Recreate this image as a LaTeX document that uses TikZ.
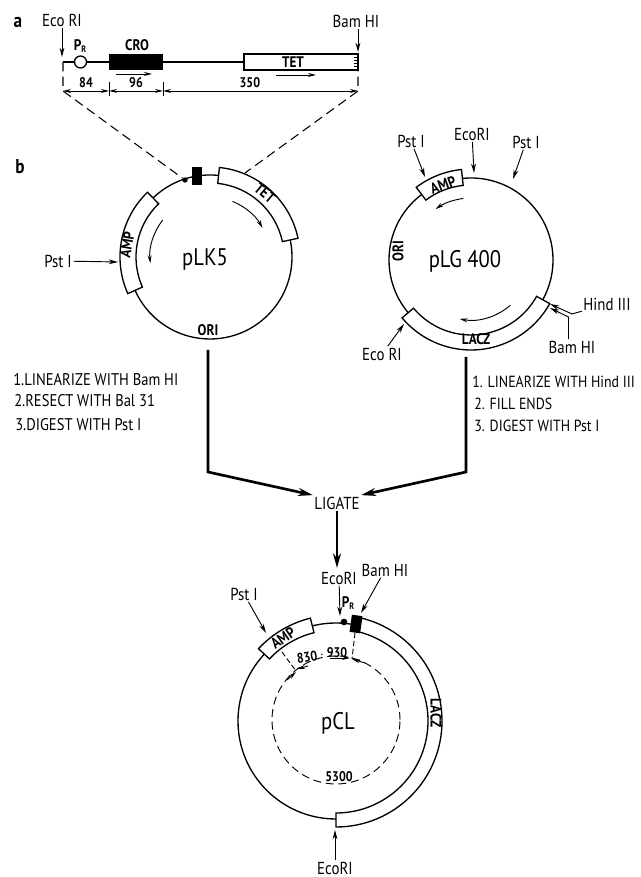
\documentclass[tikz,border=0pt]{standalone}
\usepackage{fontspec}
\setmainfont{PT Sans}[FakeStretch=0.86]
\usetikzlibrary{arrows.meta}
\newcommand{\genebox}[5]{\draw[ring, fill=white, shift={(#1)}] (#2:#4) arc (#2:#3:#4) -- (#3:#5) arc (#3:#2:#5) -- cycle;}

\begin{document}
\begin{tikzpicture}[
    x=0.75pt, y=0.75pt,
    ring/.style={line width=1pt},
    site/.style={font=\fontsize{13}{15}\selectfont, inner sep=1pt},
    gene/.style={font=\fontsize{11.5}{13}\selectfont\bfseries, inner sep=0pt},
    size/.style={font=\fontsize{10.5}{12}\selectfont\bfseries, inner sep=0pt},
    title/.style={font=\fontsize{18}{20}\selectfont, inner sep=0pt},
    recipe/.style={font=\fontsize{12.7}{14}\selectfont, anchor=west, inner sep=0pt},
    recipeb/.style={font=\fontsize{12.1}{14}\selectfont, anchor=west, inner sep=0pt},
    panel/.style={font=\fontsize{15}{17}\selectfont\bfseries, inner sep=0pt},
    arrow/.style={-{Stealth[length=7pt, width=3.6pt]}, line width=0.7pt},
    strand/.style={-{Stealth[length=6pt, width=3pt]}, line width=0.7pt},
    flow/.style={-{Stealth[length=11pt, width=6pt]}, line width=2pt},
    dim/.style={{Stealth[length=6pt, width=3pt]}-{Stealth[length=6pt, width=3pt]}, line width=0.7pt},
    zoomline/.style={line width=0.8pt, dash pattern=on 7pt off 4pt},
    mapline/.style={line width=0.7pt, dash pattern=on 6pt off 3.5pt},
    promoter/.style={circle, fill=black, minimum size=5pt, inner sep=0pt},
    operon/.style={rectangle, fill=black, minimum width=8pt, minimum height=13pt, inner sep=0pt}
]
    \useasboundingbox (0,0) rectangle (641,877);

    % Panel a
    \node[panel] (panelA) at (18,855) {a};
    \node[panel] (panelB) at (20,710) {b};
    \coordinate (leftEnd) at (63,815);
    \coordinate (rightEnd) at (358,815);
    \node[circle, draw, line width=1pt, minimum size=9pt, inner sep=0pt] (pr) at (80.5,815) {};
    \node[rectangle, fill=black, minimum width=40.5pt, minimum height=12.5pt, inner sep=0pt] (cro) at (136,815) {};
    \node[rectangle, draw, line width=1pt, minimum width=85.5pt, minimum height=12pt, inner sep=0pt] (tet) at (301,815) {};
    \node[gene] at (293,815) {TET};
    \node[gene] (croLabel) at (137,832) {CRO};
    \node[gene] (prLabel) at (80,831) {P\raisebox{-2pt}{\scriptsize R}};
    \node[site] (ecoA) at (62,857) {Eco RI};
    \node[site] (bamA) at (356,856) {Bam HI};
    \draw[ring] (leftEnd) -- (pr) -- (cro) -- (tet);
    \foreach \y in {808,811,814,817,820,823}
        \draw[line width=0.7pt] (354,\y) -- (359,\y);
    \draw[arrow] (ecoA) -- (62,820);
    \draw[arrow] (bamA.south -| rightEnd) -- (358,825);
    \draw[strand] (116,803) -- (152,803);
    \draw[strand] (276,802) -- (316,802);

    % Scale under panel a
    \coordinate (dimA) at (63,786);
    \coordinate (dimB) at (109,786);
    \coordinate (dimC) at (163,786);
    \coordinate (dimD) at (358,786);
    \draw[dim] (dimA) -- node[size, above=2pt] {84} (dimB);
    \draw[dim] (dimB) -- node[size, above=2pt] {96} (dimC);
    \draw[dim] (dimC) -- node[size, above=2pt, xshift=-8] {350} (dimD);
    \draw[line width=0.6pt] (109,781) -- (109,795);
    \draw[line width=0.6pt] (163,781) -- (163,795);

    % pLK5
    \draw[ring] (210,620) circle (82);
    \genebox{210,620}{134}{204}{74}{90}
    \genebox{210,620}{84}{12}{74}{90}
    \node[operon] (croK) at (197,701) {};
    \node[promoter, minimum size=4pt] (prK) at (185,697) {};
    \node[title] (plk) at (205,617) {pLK5};
    \node[gene, rotate=80] at (127,632) {AMP};
    \node[gene, rotate=-40] at (265,684) {TET};
    \node[gene] at (208,547) {ORI};
    \node[site] (pstL) at (58,616) {Pst I};
    \draw[arrow] (pstL) -- (118,615);
    \draw[strand, shift={(210,620)}] (68:60) arc (68:29:60);
    \draw[strand, shift={(210,620)}] (142:60) arc (142:186:60);
    \draw[zoomline] (leftEnd) -- (dimA) -- (prK);
    \draw[zoomline] (rightEnd) -- (dimD) -- (245,704);

    % pLG 400
    \draw[ring] (471,617) circle (82);
    \genebox{471,617}{127}{96}{75}{91}
    \genebox{471,617}{220}{331}{75}{90}
    \node[title] (plg) at (465,616) {pLG 400};
    \node[gene, rotate=20] at (443,692) {AMP};
    \node[gene] at (476,538) {LACZ};
    \node[gene, rotate=90] at (398,626) {ORI};
    \node[site] (pstG) at (411,736) {Pst I};
    \node[site] (ecoG) at (472,743) {EcoRI};
    \node[site] (pstH) at (526,735) {Pst I};
    \node[site] (hindG) at (607,573) {Hind III};
    \node[site] (bamG) at (572,530) {Bam HI};
    \node[site] (ecoH) at (382,523) {Eco RI};
    \draw[arrow] (pstG) -- (425,700);
    \draw[arrow] (ecoG) -- (474,704);
    \draw[arrow] (pstH) -- (513,698);
    \draw[arrow] (ecoH) -- (404,553);
    \draw[arrow] (hindG) -- (572,563) -- (550,573);
    \draw[arrow] (bamG.north -| 568.5,0) -- (568.5,560) -- (550,569);
    \draw[strand, shift={(471,617)}] (97:62) arc (97:125:62);
    \draw[strand, shift={(471,617)}] (-49:60) arc (-49:-101:60);

    % Recipes
    \node[recipe] (lkOne) at (13,497) {1.LINEARIZE WITH Bam HI};
    \node[recipe] (lkTwo) at (14,476) {2.RESECT WITH Bal 31};
    \node[recipe] (lkThree) at (15,452) {3.DIGEST WITH Pst I};
    \node[recipeb] (lgOne) at (472,495) {1. LINEARIZE WITH Hind III};
    \node[recipeb] (lgTwo) at (474,473) {2. FILL ENDS};
    \node[recipeb] (lgThree) at (474,451) {3. DIGEST WITH Pst I};

    % Ligation
    \node[site] (ligate) at (337,374) {LIGATE};
    \coordinate (plkOut) at (208,527);
    \coordinate (plgOut) at (466,520);
    \draw[flow] (plkOut) -- (208,405) -- (ligate.north west);
    \draw[flow] (plgOut) -- (466,405) -- (ligate.north east);
    \draw[flow] (ligate) -- (337,309);

    % pCL
    \draw[ring] (336,156) circle (98);
    \genebox{336,156}{76}{-90}{92}{106}
    \genebox{336,156}{137}{104}{91}{106}
    \draw[mapline] (336,157) circle (64);
    \node[operon, rotate=-8] (croC) at (356,253) {};
    \node[promoter] (prC) at (344,255) {};
    \node[title] (pcl) at (338,154) {pCL};
    \node[gene, rotate=35] at (283,239) {AMP};
    \node[gene, rotate=-90] at (436,164) {LACZ};
    \node[size, rotate=8] at (307,220) {830};
    \node[size] at (322,222) {$\cdot$};
    \node[size] at (337,224) {930};
    \node[size] at (339,100) {5300};
    \node[gene] (prCLabel) at (348,274) {P\raisebox{-2pt}{\scriptsize R}};
    \node[site] (pstC) at (244,283) {Pst I};
    \node[site] (ecoC) at (339,299) {EcoRI};
    \node[site] (bamC) at (385,307) {Bam HI};
    \node[site] (ecoD) at (335,9) {EcoRI};
    \draw[arrow] (pstC) -- (266,244);
    \draw[arrow] (ecoC) -- (340,261);
    \draw[arrow] (bamC) -- (361,264);
    \draw[arrow] (ecoD) -- (335,47);
    \draw[mapline, dash pattern=on 4pt off 2pt] (282,225) -- (296,206);
    \draw[mapline, dash pattern=on 4pt off 2pt] (croC) -- (352,218);
    \draw[strand] (287,197) -- (296,205);
    \draw[strand] (365,214) -- (352,218);
    \draw[strand] (308,211) -- (297,208);
    \draw[strand] (330,219) -- (350,219);
\end{tikzpicture}
\end{document}
